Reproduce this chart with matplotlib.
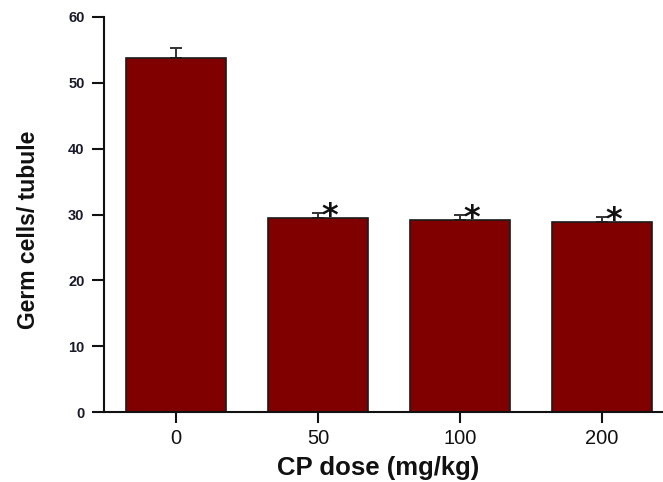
import matplotlib
matplotlib.use("Agg")
import matplotlib.pyplot as plt

# Germ cell counts per seminiferous tubule by cyclophosphamide dose
doses = ["0", "50", "100", "200"]
germ_cells = [53.8, 29.4, 29.2, 28.9]
sem = [1.5, 0.9, 0.8, 0.7]
significant = [False, True, True, True]
y_ticks = [0, 10, 20, 30, 40, 50, 60]

plt.rcParams["font.family"] = ["Liberation Sans", "DejaVu Sans"]

fig = plt.figure(figsize=(6.63, 4.82), dpi=100)
ax = fig.add_axes([104 / 663, 70 / 482, 1 - 104 / 663, (412 - 17) / 482])

x = list(range(len(doses)))
ax.bar(x, germ_cells, width=0.704, color="#800000", edgecolor="#1a1a1a",
       linewidth=1.2, zorder=2)
ax.errorbar(x, germ_cells, yerr=[[0] * len(sem), sem], fmt="none",
            ecolor="#333333", elinewidth=1.4, capsize=4, capthick=1.4,
            zorder=1)

for xi, val, err, sig in zip(x, germ_cells, sem, significant):
    if sig:
        ax.text(xi + 0.085, val + err * 0.3, "*", ha="center", va="center",
                fontsize=23, fontweight="bold", color="#111111",
                family="DejaVu Sans")

ax.set_xlim(-0.507, 3.43)
ax.set_ylim(0, 60)
ax.set_yticks(y_ticks)
ax.set_xticks(x)
ax.set_xticklabels(doses, fontsize=14.5, color="#111111")
ax.set_yticklabels([str(t) for t in y_ticks], fontsize=10.5, fontweight="bold",
                   color="#1a1a2a")

for side in ("top", "right"):
    ax.spines[side].set_visible(False)
for side in ("left", "bottom"):
    ax.spines[side].set_linewidth(1.5)
    ax.spines[side].set_color("#111111")

ax.tick_params(axis="y", length=9, width=1.5, pad=5, color="#111111")
ax.tick_params(axis="x", length=8, width=1.5, pad=4, color="#111111")

ax.set_ylabel("Germ cells/ tubule", fontsize=16.5, fontweight="bold",
              color="#111111")
ax.yaxis.set_label_coords(-64 / 559, 0.5 + (412 - 230 - 197.5) / 395)
ax.set_xlabel("CP dose (mg/kg)", fontsize=18.5, fontweight="bold",
              color="#111111")
ax.xaxis.set_label_coords((378 - 104) / 559, -(456 - 412) / 395)

fig.savefig("out.png", dpi=100)
